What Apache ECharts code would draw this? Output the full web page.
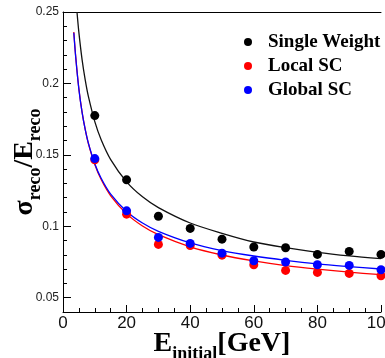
<!DOCTYPE html>
<html>
<head>
<meta charset="utf-8">
<script src="https://cdn.jsdelivr.net/npm/echarts@6/dist/echarts.min.js"></script>
<style>
  html, body { margin: 0; padding: 0; background: #fff; }
  #chart { width: 385px; height: 358px; }
</style>
</head>
<body>
<div id="chart"></div>
<script>
// measured points
const energies = [10, 20, 30, 40, 50, 60, 70, 80, 90, 100]
const singleWeight = [0.1775, 0.1325, 0.107, 0.0985, 0.091, 0.0855, 0.085, 0.0803, 0.0824, 0.0803]
const localSC = [0.1465, 0.1085, 0.0873, 0.0865, 0.0798, 0.0731, 0.0691, 0.0677, 0.067, 0.0654]
const globalSC = [0.1474, 0.1108, 0.0922, 0.088, 0.0812, 0.0759, 0.075, 0.0731, 0.0726, 0.0696]

// fit curves
const fitE_single = [4.4, 5, 6, 7, 8, 10, 12, 15, 20, 25, 30, 40, 50, 60, 70, 80, 90, 100]
const fitSingle = [0.25, 0.2356, 0.2167, 0.2023, 0.1907, 0.1733, 0.1606, 0.1467, 0.1311, 0.1206, 0.1131, 0.1023, 0.0951, 0.089, 0.085, 0.0818, 0.0793, 0.0773]
const fitE_sc = [3.4, 4, 5, 6, 7, 8, 10, 12, 15, 20, 25, 30, 40, 50, 60, 70, 80, 90, 100]
const fitLocal = [0.236, 0.2187, 0.1961, 0.1799, 0.1676, 0.1578, 0.1432, 0.1327, 0.1213, 0.1087, 0.1002, 0.0941, 0.0856, 0.0799, 0.0758, 0.0725, 0.07, 0.0679, 0.0661]
const fitGlobal = [0.2355, 0.2183, 0.1958, 0.1797, 0.1676, 0.158, 0.1438, 0.1336, 0.1225, 0.1104, 0.1023, 0.0965, 0.0884, 0.083, 0.0792, 0.0762, 0.0737, 0.0718, 0.0701]

// y axis ticks
const yLabels = [0.05, 0.1, 0.15, 0.2, 0.25]
const yMinorTicks = [0.04, 0.05, 0.06, 0.07, 0.08, 0.09, 0.1, 0.11, 0.12, 0.13, 0.14, 0.15, 0.16, 0.17, 0.18, 0.19, 0.2, 0.21, 0.22, 0.23, 0.24, 0.25]

const zip = (xs, ys) => xs.map((x, i) => [x, ys[i]])
const serif = 'Liberation Serif'
const sans = 'Liberation Sans'

const chart = echarts.init(document.getElementById('chart'))

const fitLine = (data, color) => ({
  type: 'line',
  data,
  showSymbol: false,
  smooth: 0.3,
  silent: true,
  z: 2,
  lineStyle: { color, width: 1.3 }
})
const points = (name, data, color) => ({
  name,
  type: 'scatter',
  data,
  symbol: 'circle',
  symbolSize: 9,
  z: 3,
  itemStyle: { color, opacity: 1 }
})

chart.setOption({
  animation: false,
  grid: { left: 63, right: 4, top: 12, bottom: 46, outerBoundsMode: 'none' },
  legend: {
    orient: 'vertical',
    left: 239,
    top: 27,
    itemWidth: 8,
    itemHeight: 8,
    itemGap: 4,
    icon: 'circle',
    data: ['Single Weight', 'Local SC', 'Global SC'],
    textStyle: {
      fontFamily: serif,
      fontWeight: 'bold',
      fontSize: 19,
      lineHeight: 20,
      color: '#000',
      padding: [0, 0, 0, 11]
    }
  },
  xAxis: [
    {
      type: 'value',
      min: 0,
      max: 100,
      interval: 20,
      axisLine: { lineStyle: { color: '#000', width: 1 } },
      axisTick: { inside: true, length: 7, lineStyle: { color: '#000' } },
      minorTick: { show: true, splitNumber: 4, length: 4, lineStyle: { color: '#000' } },
      splitLine: { show: false },
      axisLabel: { fontFamily: sans, fontSize: 17, color: '#111', margin: 3 },
      name: '{b|E}{s|initial}{b|[GeV]}',
      nameLocation: 'middle',
      nameGap: 23,
      nameMoveOverlap: false,
      nameTextStyle: {
        rich: {
          b: { fontFamily: serif, fontWeight: 'bold', fontSize: 28, lineHeight: 28, padding: [0, 0, 5, 0], verticalAlign: 'bottom', color: '#000' },
          s: { fontFamily: serif, fontWeight: 'bold', fontSize: 18, lineHeight: 18, verticalAlign: 'bottom', color: '#000' }
        }
      }
    },
    {
      type: 'value',
      position: 'top',
      min: 0,
      max: 100,
      axisLine: { show: true, lineStyle: { color: '#000', width: 1 } },
      axisTick: { show: false },
      axisLabel: { show: false },
      splitLine: { show: false }
    }
  ],
  yAxis: [
    {
      type: 'value',
      min: 0.04,
      max: 0.25,
      axisLine: { show: true, lineStyle: { color: '#000', width: 1 } },
      axisTick: { inside: true, length: 8, customValues: yLabels, lineStyle: { color: '#000' } },
      splitLine: { show: false },
      axisLabel: {
        customValues: yLabels,
        fontFamily: sans,
        fontSize: 12,
        color: '#222',
        margin: 4,
        formatter: v => String(+v.toFixed(2))
      },
      name: '{m|σ}{s|reco}{m|/E}{s|reco}',
      nameLocation: 'middle',
      nameRotate: 90,
      nameGap: 19,
      nameMoveOverlap: false,
      nameTextStyle: {
        rich: {
          m: { fontFamily: serif, fontWeight: 'bold', fontSize: 28, lineHeight: 28, padding: [0, 0, 5, 0], verticalAlign: 'bottom', color: '#000' },
          s: { fontFamily: serif, fontWeight: 'bold', fontSize: 18, lineHeight: 18, verticalAlign: 'bottom', color: '#000' }
        }
      }
    },
    {
      type: 'value',
      position: 'left',
      min: 0.04,
      max: 0.25,
      axisLine: { show: false },
      axisTick: { show: true, inside: true, length: 4, customValues: yMinorTicks, lineStyle: { color: '#000' } },
      axisLabel: { show: false },
      splitLine: { show: false }
    }
  ],
  series: [
    fitLine(zip(fitE_single, fitSingle), '#111'),
    fitLine(zip(fitE_sc, fitLocal), '#ff0000'),
    fitLine(zip(fitE_sc, fitGlobal), '#0000ff'),
    points('Single Weight', zip(energies, singleWeight), '#000000'),
    points('Local SC', zip(energies, localSC), '#ff0000'),
    points('Global SC', zip(energies, globalSC), '#0000ff')
  ]
})
</script>
</body>
</html>
